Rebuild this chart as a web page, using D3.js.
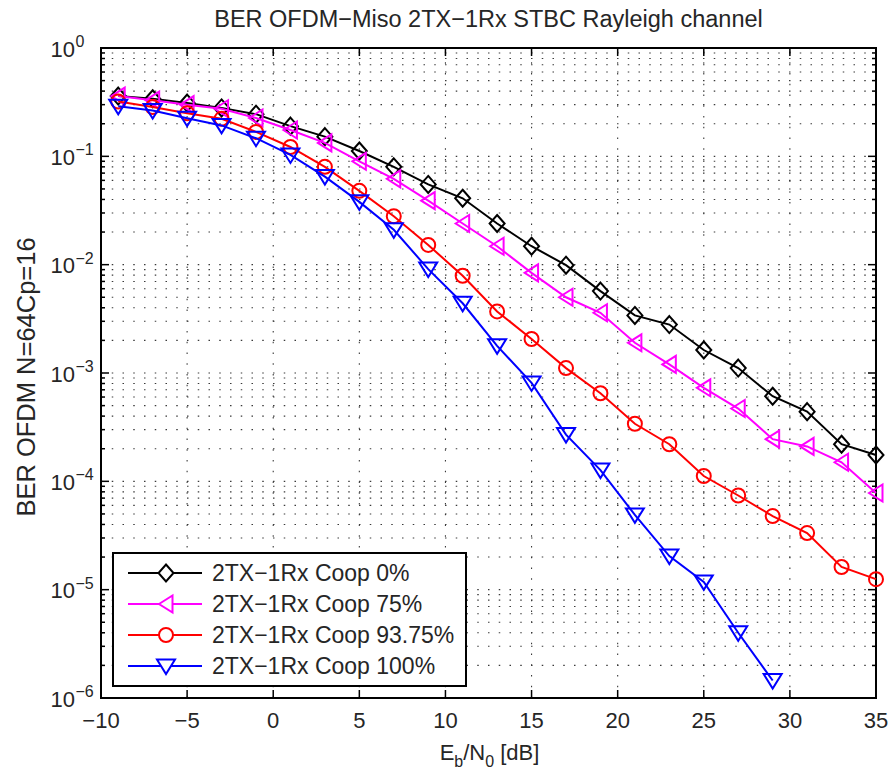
<!DOCTYPE html>
<html>
<head>
<meta charset="utf-8">
<script src="https://cdn.jsdelivr.net/npm/d3@7"></script>
<style>
  html, body { margin: 0; padding: 0; background: #fff; }
  text { font-family: "Liberation Sans", Arial, Helvetica, sans-serif; fill: #262626; }
</style>
</head>
<body>
<svg id="chart" width="891" height="771"></svg>
<script>
// ---- data ----
const ebn0 = [-9, -7, -5, -3, -1, 1, 3, 5, 7, 9, 11, 13, 15, 17, 19, 21, 23, 25, 27, 29, 31, 33, 35];
const coop0 = [0.36, 0.34, 0.31, 0.28, 0.245, 0.19, 0.152, 0.112, 0.08, 0.055, 0.041, 0.024, 0.0148, 0.0099, 0.0057, 0.0034, 0.0028, 0.00163, 0.00111, 0.00061, 0.00044, 0.00022, 0.000175];
const coop75 = [0.36, 0.33, 0.30, 0.275, 0.226, 0.175, 0.133, 0.09, 0.062, 0.039, 0.0240, 0.0148, 0.0084, 0.005, 0.0036, 0.0019, 0.0012, 0.00073, 0.00047, 0.000245, 0.00021, 0.00015, 0.000078];
const coop9375 = [0.32, 0.285, 0.25, 0.222, 0.168, 0.122, 0.08, 0.048, 0.028, 0.0152, 0.0079, 0.0037, 0.00206, 0.00111, 0.00065, 0.00034, 0.00022, 0.000112, 0.000074, 0.0000478, 0.0000333, 0.0000162, 0.0000125];
const coop100 = [0.29, 0.265, 0.225, 0.193, 0.147, 0.103, 0.065, 0.038, 0.021, 0.0091, 0.0044, 0.00178, 0.00081, 0.00027, 0.000127, 0.000049, 0.0000204, 0.0000118, 0.000004, 0.00000145];
const seriesNames = ["2TX\u22121Rx Coop 0%", "2TX\u22121Rx Coop 75%", "2TX\u22121Rx Coop 93.75%", "2TX\u22121Rx Coop 100%"];
const xTicks = [-10, -5, 0, 5, 10, 15, 20, 25, 30, 35];
const yTickExps = [0, -1, -2, -3, -4, -5, -6];
const titleText = "BER OFDM\u2212Miso 2TX\u22121Rx STBC Rayleigh channel";
const yLabelText = "BER OFDM N=64Cp=16";

// ---- styling ----
const colors = ["#000000", "#ff00ff", "#ff0000", "#0000ff"];
const shapes = ["diamond", "left", "circle", "down"];
const allValues = [coop0, coop75, coop9375, coop100];

const L = 101, R = 876, T = 48, B = 698;
const svg = d3.select("#chart");
const x = d3.scaleLinear().domain([-10, 35]).range([L, R]);
const y = d3.scaleLog().domain([1e-6, 1]).range([B, T]);

// grid
const grid = svg.append("g");
const minorVals = [];
for (let e = -6; e < 0; e++) for (let m = 1; m <= 9; m++) minorVals.push(m * Math.pow(10, e));
minorVals.push(1);
grid.selectAll("line.h").data(minorVals).join("line")
  .attr("x1", L).attr("x2", R)
  .attr("y1", d => y(d)).attr("y2", d => y(d))
  .attr("stroke", "#3a3a3a").attr("stroke-width", 1.1)
  .attr("stroke-dasharray", "1.5,9.25");
grid.selectAll("line.v").data(xTicks).join("line")
  .attr("x1", d => x(d)).attr("x2", d => x(d))
  .attr("y1", B).attr("y2", T)
  .attr("stroke", "#3a3a3a").attr("stroke-width", 1.1)
  .attr("stroke-dasharray", "1.5,9.25");

// ticks
const tk = svg.append("g").attr("stroke", "#000").attr("stroke-width", 1.5);
xTicks.forEach(v => {
  tk.append("line").attr("x1", x(v)).attr("x2", x(v)).attr("y1", B).attr("y2", B - 8);
  tk.append("line").attr("x1", x(v)).attr("x2", x(v)).attr("y1", T).attr("y2", T + 8);
});
minorVals.forEach(v => {
  const major = Math.abs(Math.log10(v) - Math.round(Math.log10(v))) < 1e-9;
  const len = major ? 8 : 4;
  tk.append("line").attr("x1", L).attr("x2", L + len).attr("y1", y(v)).attr("y2", y(v));
  tk.append("line").attr("x1", R).attr("x2", R - len).attr("y1", y(v)).attr("y2", y(v));
});

// frame
svg.append("rect").attr("x", L).attr("y", T).attr("width", R - L).attr("height", B - T)
  .attr("fill", "none").attr("stroke", "#000").attr("stroke-width", 2);

// tick labels
svg.append("g").selectAll("text").data(xTicks).join("text")
  .attr("x", d => x(d)).attr("y", 728).attr("text-anchor", "middle")
  .attr("font-size", 22)
  .text(d => d < 0 ? "\u2212" + Math.abs(d) : String(d));

const yl = svg.append("g");
yTickExps.forEach(e => {
  const yy = y(Math.pow(10, e));
  yl.append("text").attr("x", 75).attr("y", yy + 8.5).attr("text-anchor", "end")
    .attr("font-size", 22).text("10");
  yl.append("text").attr("x", 75.5).attr("y", yy - 1).attr("text-anchor", "start")
    .attr("font-size", 16).text(e < 0 ? "\u2212" + Math.abs(e) : String(e));
});

// title
svg.append("text").attr("x", (L + R) / 2).attr("y", 27).attr("text-anchor", "middle")
  .attr("font-size", 23.5).text(titleText);

// x label
const xlab = svg.append("text").attr("x", (L + R) / 2 + 1).attr("y", 760).attr("text-anchor", "middle")
  .attr("font-size", 22);
xlab.append("tspan").text("E");
xlab.append("tspan").attr("dy", 7).attr("font-size", 16).text("b");
xlab.append("tspan").attr("dy", -7).text("/N");
xlab.append("tspan").attr("dy", 7).attr("font-size", 16).text("0");
xlab.append("tspan").attr("dy", -7).text(" [dB]");

// y label
svg.append("text").attr("transform", "translate(35,377) rotate(-90)")
  .attr("text-anchor", "middle").attr("font-size", 25.5).text(yLabelText);

// marker shape paths
function markerPath(shape) {
  switch (shape) {
    case "diamond": return "M0,-8.5L7.5,0L0,8.5L-7.5,0Z";
    case "left": return "M-7,0L6.5,-8.5L6.5,8.5Z";
    case "down": return "M-9,-6.5L9,-6.5L0,8Z";
    case "circle": return d3.arc()({innerRadius: 0, outerRadius: 7, startAngle: 0, endAngle: 2 * Math.PI});
  }
}

// series
const plot = svg.append("g");
const line = d3.line().x(d => x(d[0])).y(d => y(d[1]));
allValues.forEach((vals, i) => {
  const pts = vals.map((v, j) => [ebn0[j], v]);
  plot.append("path").datum(pts).attr("d", line)
    .attr("fill", "none").attr("stroke", colors[i]).attr("stroke-width", 2);
  plot.append("g").selectAll("path").data(pts).join("path")
    .attr("transform", d => `translate(${x(d[0])},${y(d[1])})`)
    .attr("d", markerPath(shapes[i]))
    .attr("fill", "none").attr("stroke", colors[i]).attr("stroke-width", 2);
});

// legend
const lg = svg.append("g");
lg.append("rect").attr("x", 113).attr("y", 553).attr("width", 353).attr("height", 133)
  .attr("fill", "#fff").attr("stroke", "#000").attr("stroke-width", 2);
seriesNames.forEach((name, i) => {
  const ry = 573 + i * 31;
  lg.append("line").attr("x1", 128).attr("x2", 202).attr("y1", ry).attr("y2", ry)
    .attr("stroke", colors[i]).attr("stroke-width", 2);
  lg.append("path").attr("transform", `translate(166,${ry})`).attr("d", markerPath(shapes[i]))
    .attr("fill", "#fff").attr("stroke", colors[i]).attr("stroke-width", 2);
  lg.append("text").attr("x", 212).attr("y", ry + 8).attr("font-size", 23).text(name);
});
</script>
</body>
</html>
